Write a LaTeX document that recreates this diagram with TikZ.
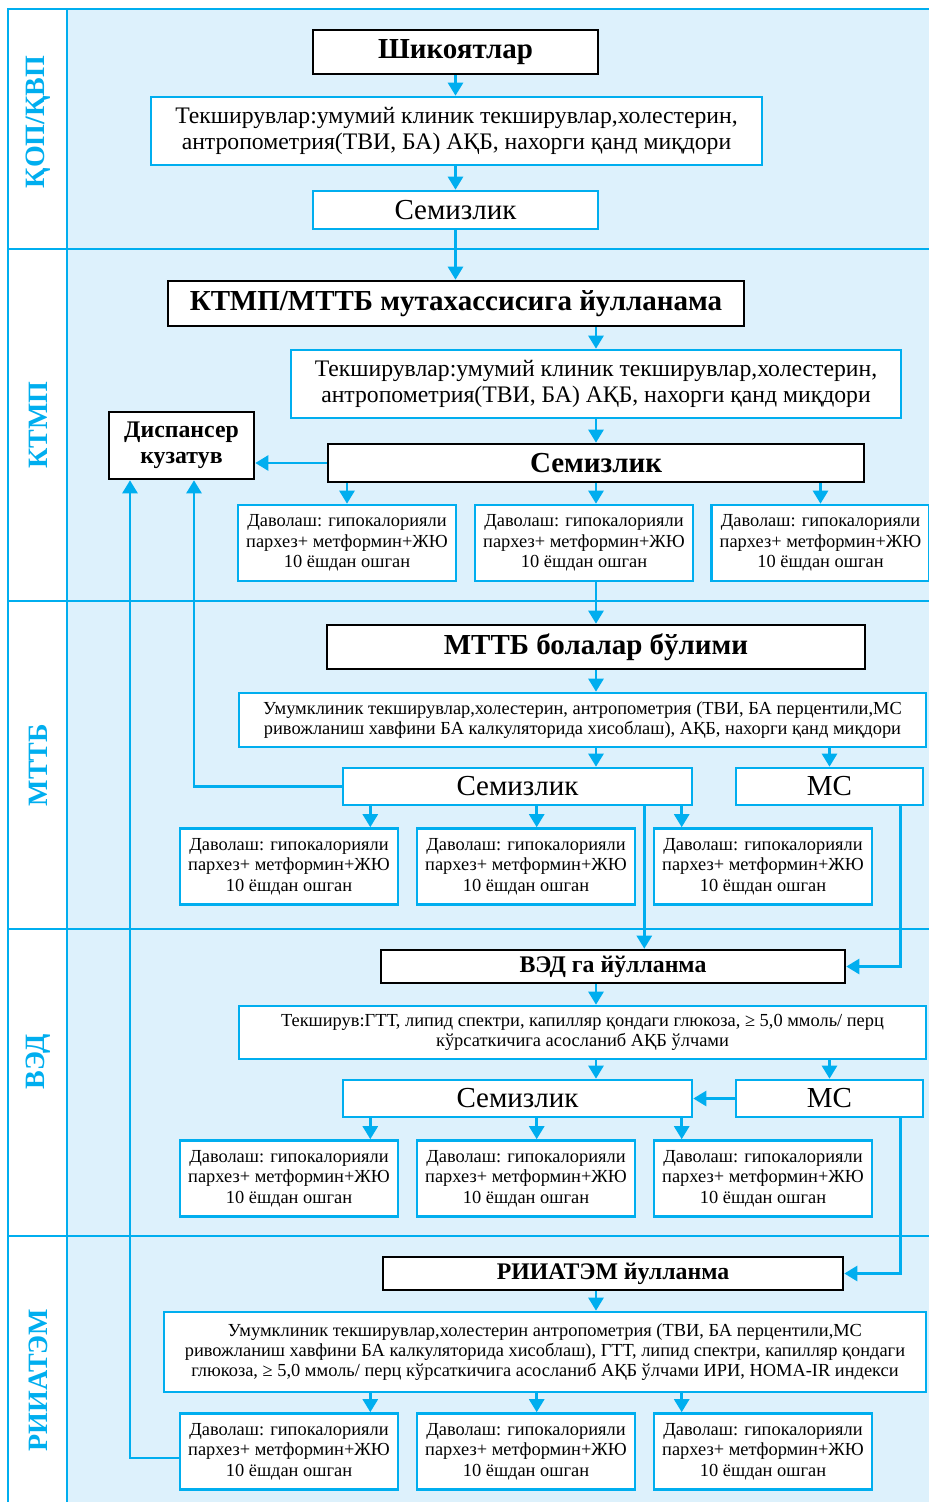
\documentclass[tikz,border=0pt]{standalone}
\usepackage{fontspec}
\setmainfont{Liberation Serif}
\usetikzlibrary{arrows.meta, positioning, calc}
\definecolor{flowblue}{RGB}{0,174,239}
\definecolor{flowpale}{RGB}{221,241,252}

\begin{document}
\begin{tikzpicture}[
        x=1pt, y=-1pt,
        every node/.style={inner sep=0pt, align=center},
        blackbox/.style={draw=black, line width=2.6pt, fill=white, font=\fontsize{29}{32}\selectfont\bfseries},
        smallhead/.style={blackbox, font=\fontsize{23.8}{26}\selectfont\bfseries},
        bluebox/.style={draw=flowblue, line width=2.6pt, fill=white},
        exambox/.style={bluebox, font=\fontsize{23.7}{26}\selectfont},
        notebox/.style={bluebox, font=\fontsize{18.4}{20.3}\selectfont},
        semibox/.style={bluebox, font=\fontsize{29}{30}\selectfont},
        cure/.style={bluebox, minimum width=218pt, minimum height=76pt, font=\fontsize{18.4}{20.3}\selectfont},
        lane/.style={rotate=90, text=flowblue, font=\fontsize{28}{32}\selectfont\bfseries},
        arr/.style={draw=flowblue, line width=2.6pt, -{Triangle[width=15pt,length=13pt]}},
        link/.style={draw=flowblue, line width=2.6pt}
    ]
    \def\cure{Даволаш: гипокалорияли\\пархез+ метформин+ЖЮ\\10 ёшдан ошган}
    \useasboundingbox (0,0) rectangle (929,1502);

    % lanes
    \fill[flowpale] (67,9) rectangle (929,1502);
    \fill[white] (8,9) rectangle (67,1502);
    \draw[link] (929,9) -- (8,9) -- (8,1502);
    \draw[link] (67,9) -- (67,1502);
    \foreach \y in {249,601,929,1236}
        \draw[link] (8,\y) -- (929,\y);
    \node[lane] (laneA) at (38,122) {ҚОП/ҚВП};
    \node[lane] (laneB) at (38,425) {КТМП};
    \node[lane] (laneC) at (38,765) {МТТБ};
    \node[lane] (laneD) at (38,1062) {ВЭД};
    \node[lane] (laneE) at (38,1380) {РИИАТЭМ};

    % КОП/КВП
    \node[blackbox, minimum width=285pt, minimum height=44pt] (complaint) at (455.5,52) {Шикоятлар};
    \node[exambox, minimum width=611pt, minimum height=68pt] (exam1) at (456.5,131)
        {Текширувлар:умумий клиник текширувлар,холестерин,\\антропометрия(ТВИ, БА) АҚБ, нахорги қанд миқдори};
    \node[semibox, minimum width=285pt, minimum height=38pt] (obese1) at (455.5,210) {Семизлик};

    % КТМП
    \node[blackbox, minimum width=576pt, minimum height=45pt] (referral) at (456,303.5) {КТМП/МТТБ мутахассисига йулланама};
    \node[exambox, minimum width=610pt, minimum height=68pt] (exam2) at (596,384)
        {Текширувлар:умумий клиник текширувлар,холестерин,\\антропометрия(ТВИ, БА) АҚБ, нахорги қанд миқдори};
    \node[smallhead, minimum width=145pt, minimum height=67pt] (dispensary) at (181.5,445.5) {Диспансер\\кузатув};
    \node[blackbox, minimum width=536pt, minimum height=38pt] (obese2) at (596,463) {Семизлик};
    \node[cure] (cureA1) at (347,543) {\cure};
    \node[cure] (cureA2) at (584,543) {\cure};
    \node[cure] (cureA3) at (820.5,543) {\cure};

    % МТТБ
    \node[blackbox, minimum width=538pt, minimum height=44pt] (dept) at (596,647) {МТТБ болалар бўлими};
    \node[notebox, minimum width=687pt, minimum height=54pt] (exam3) at (582.5,720)
        {Умумклиник текширувлар,холестерин, антропометрия (ТВИ, БА перцентили,МС\\ривожланиш хавфини БА калкуляторида хисоблаш), АҚБ, нахорги қанд миқдори};
    \node[semibox, minimum width=349pt, minimum height=37pt] (obese3) at (517.5,786.5) {Семизлик};
    \node[semibox, minimum width=187pt, minimum height=37pt] (ms3) at (829.5,786.5) {МС};
    \node[cure] (cureB1) at (289,866.5) {\cure};
    \node[cure] (cureB2) at (526,866.5) {\cure};
    \node[cure] (cureB3) at (763,866.5) {\cure};

    % ВЭД
    \node[smallhead, minimum width=464pt, minimum height=33pt] (vedref) at (613,966.5) {ВЭД га йўлланма};
    \node[notebox, minimum width=687pt, minimum height=53pt] (exam4) at (582.5,1032.5)
        {Текширув:ГТТ, липид спектри, капилляр қондаги глюкоза, ≥ 5,0 ммоль/ перц\\кўрсаткичига асосланиб АҚБ ўлчами};
    \node[semibox, minimum width=349pt, minimum height=37pt] (obese4) at (517.5,1098.5) {Семизлик};
    \node[semibox, minimum width=187pt, minimum height=37pt] (ms4) at (829.5,1098.5) {МС};
    \node[cure] (cureC1) at (289,1178.5) {\cure};
    \node[cure] (cureC2) at (526,1178.5) {\cure};
    \node[cure] (cureC3) at (763,1178.5) {\cure};

    % РИИАТЭМ
    \node[smallhead, minimum width=460pt, minimum height=33pt] (riiref) at (613,1273.5) {РИИАТЭМ йулланма};
    \node[notebox, minimum width=762pt, minimum height=80pt] (exam5) at (545,1352)
        {Умумклиник текширувлар,холестерин антропометрия (ТВИ, БА перцентили,МС\\ривожланиш хавфини БА калкуляторида хисоблаш), ГТТ, липид спектри, капилляр қондаги\\глюкоза, ≥ 5,0 ммоль/ перц кўрсаткичига асосланиб АҚБ ўлчами ИРИ, HOMA-IR индекси};
    \node[cure] (cureD1) at (289,1451.5) {\cure};
    \node[cure] (cureD2) at (526,1451.5) {\cure};
    \node[cure] (cureD3) at (763,1451.5) {\cure};

    % arrow positions inside the rows
    \foreach \r in {B,C,D} {
        \coordinate (tip\r1) at ([xshift=-29pt]cure\r1.north east);
        \coordinate (tip\r2) at ([xshift=121pt]cure\r2.north west);
        \coordinate (tip\r3) at ([xshift=29pt]cure\r3.north west);
    }

    \draw[arr] (complaint.south) -- (complaint.south |- exam1.north);
    \draw[arr] (obese1.north |- exam1.south) -- (obese1.north);
    \draw[arr] (obese1.south) -- (obese1.south |- referral.north);
    \draw[arr] (referral.south -| exam2) -- (exam2.north);
    \draw[arr] (exam2.south) -- (obese2.north);
    \draw[arr] (obese2.west) -- (obese2.west -| dispensary.east);
    \draw[arr] (obese2.south -| cureA1) -- (cureA1.north);
    \draw[arr] (obese2.south) -- (obese2.south |- cureA2.north);
    \draw[arr] (obese2.south -| cureA3) -- (cureA3.north);
    \draw[arr] (obese2.south |- cureA2.south) -- (dept.north);

    \draw[arr] (dept.south) -- (dept.south |- exam3.north);
    \draw[arr] (dept.south |- exam3.south) -- (dept.south |- obese3.north);
    \draw[arr] (exam3.south -| ms3) -- (ms3.north);
    \draw[arr] (obese3.west) -| ([xshift=12.5pt]dispensary.south);
    \draw[arr] (obese3.south -| tipB1) -- (tipB1);
    \draw[arr] (obese3.south -| tipB2) -- (tipB2);
    \draw[arr] (obese3.south -| tipB3) -- (tipB3);
    \draw[arr] ([xshift=-49pt]obese3.south east) -- ([xshift=-49pt]obese3.south east |- vedref.north);
    \draw[arr] ([xshift=-24pt]ms3.south east) |- (vedref.east);

    \draw[arr] (vedref.south -| dept) -- (dept |- exam4.north);
    \draw[arr] (exam4.south -| dept) -- (dept |- obese4.north);
    \draw[arr] (exam4.south -| ms4) -- (ms4.north);
    \draw[arr] (ms4.west) -- (obese4.east);
    \draw[arr] (obese4.south -| tipC1) -- (tipC1);
    \draw[arr] (obese4.south -| tipC2) -- (tipC2);
    \draw[arr] (obese4.south -| tipC3) -- (tipC3);
    \draw[arr] ([xshift=-24pt]ms4.south east) |- (riiref.east);

    \draw[arr] (riiref.south -| dept) -- (dept |- exam5.north);
    \draw[arr] (exam5.south -| tipD1) -- (tipD1);
    \draw[arr] (exam5.south -| tipD2) -- (tipD2);
    \draw[arr] (exam5.south -| tipD3) -- (tipD3);
    \draw[arr] ([yshift=-6.5pt]cureD1.west) -| ([xshift=-51.5pt]dispensary.south);
\end{tikzpicture}
\end{document}
